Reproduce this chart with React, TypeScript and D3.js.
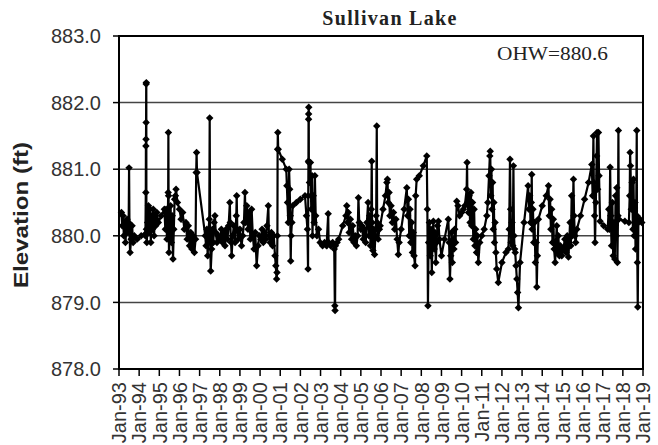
import * as d3 from 'd3'
import React from 'react'

type Obs = [number, number] // [decimal year, elevation ft]

const title = 'Sullivan Lake'
const ohwLabel = 'OHW=880.6'
const yLabel = 'Elevation (ft)'
const yTicks = [878, 879, 880, 881, 882, 883]
const yearTicks = d3.range(1993, 2020)

const obs1993_1997: Obs[] = [
  [1993.12, 880.35], [1993.16, 880.15], [1993.2, 880.3], [1993.24, 880.0], [1993.28, 880.2], [1993.32, 879.9],
  [1993.36, 880.1], [1993.4, 880.25], [1993.44, 880.05], [1993.48, 880.2], [1993.5, 881.02], [1993.52, 880.1],
  [1993.55, 879.75], [1993.6, 879.95], [1993.65, 880.15], [1993.7, 879.9], [1993.76, 880.0], [1993.9, 879.95],
  [1994.1, 880.0], [1994.28, 880.02], [1994.31, 880.0], [1994.33, 880.65], [1994.335, 881.35], [1994.34, 881.45],
  [1994.345, 881.7], [1994.35, 882.28], [1994.355, 882.3], [1994.36, 880.1], [1994.38, 879.9], [1994.42, 880.2],
  [1994.46, 880.45], [1994.5, 880.05], [1994.54, 880.4], [1994.58, 879.9], [1994.62, 880.3], [1994.66, 880.1],
  [1994.7, 880.4], [1994.74, 880.0], [1994.78, 880.3], [1994.82, 880.15], [1994.88, 880.35], [1994.95, 880.2],
  [1995.1, 880.3], [1995.25, 880.4], [1995.3, 880.1], [1995.34, 880.4], [1995.38, 879.95], [1995.42, 880.2],
  [1995.44, 880.65], [1995.45, 881.55], [1995.46, 880.6], [1995.48, 879.75], [1995.52, 880.05], [1995.56, 880.45],
  [1995.6, 879.9], [1995.64, 880.3], [1995.68, 879.65], [1995.72, 880.1], [1995.76, 880.55], [1995.8, 880.6],
  [1995.83, 880.7], [1995.9, 880.5], [1996.0, 880.4], [1996.08, 880.25], [1996.16, 880.35], [1996.24, 880.1],
  [1996.32, 880.2], [1996.38, 879.95], [1996.44, 880.15], [1996.5, 879.85], [1996.56, 880.05], [1996.62, 879.8],
  [1996.68, 880.0], [1996.74, 879.75], [1996.8, 879.95], [1996.83, 880.95], [1996.85, 881.25], [1996.87, 880.95],
  [1997.28, 880.0], [1997.32, 879.85], [1997.36, 880.1], [1997.4, 879.7], [1997.44, 880.05], [1997.48, 880.25],
  [1997.5, 881.77], [1997.52, 880.05], [1997.55, 879.47], [1997.6, 879.8], [1997.64, 880.1], [1997.68, 879.9],
  [1997.72, 880.2], [1997.76, 880.3], [1997.8, 880.05], [1997.86, 879.9], [1997.94, 880.0],
]

const obs1998_2002: Obs[] = [
  [1998.02, 879.95], [1998.08, 880.1], [1998.14, 879.9], [1998.2, 880.05], [1998.26, 879.85], [1998.32, 880.1],
  [1998.38, 879.95], [1998.44, 880.15], [1998.5, 880.5], [1998.52, 880.2], [1998.56, 879.9], [1998.59, 879.7],
  [1998.64, 880.0], [1998.7, 880.15], [1998.76, 879.9], [1998.82, 880.3], [1998.84, 880.6], [1998.87, 880.1],
  [1998.92, 879.95], [1999.0, 880.1], [1999.08, 879.85], [1999.14, 880.0], [1999.2, 880.2], [1999.25, 880.65],
  [1999.28, 880.2], [1999.34, 880.45], [1999.4, 880.1], [1999.46, 880.35], [1999.52, 879.95], [1999.58, 880.4],
  [1999.64, 880.0], [1999.7, 879.8], [1999.76, 880.05], [1999.83, 879.55], [1999.9, 879.85], [1999.96, 880.0],
  [2000.04, 879.95], [2000.1, 880.1], [2000.16, 879.9], [2000.22, 880.05], [2000.28, 879.95], [2000.34, 880.15],
  [2000.41, 880.45], [2000.44, 880.0], [2000.5, 879.9], [2000.56, 880.05], [2000.62, 879.85], [2000.68, 880.0],
  [2000.74, 879.7], [2000.78, 879.55], [2000.82, 879.35], [2000.84, 879.45], [2000.86, 880.0], [2000.87, 881.3],
  [2000.88, 881.55], [2000.9, 881.3], [2001.1, 881.15], [2001.3, 881.0], [2001.33, 880.75], [2001.36, 880.5],
  [2001.4, 880.2], [2001.44, 881.0], [2001.47, 880.7], [2001.5, 880.3], [2001.52, 879.62], [2001.54, 880.0],
  [2001.58, 880.2], [2001.62, 880.45], [2001.8, 880.5], [2002.0, 880.55], [2002.23, 880.6], [2002.3, 880.3],
  [2002.35, 880.1], [2002.38, 879.5], [2002.39, 880.6], [2002.4, 881.12], [2002.405, 881.75], [2002.41, 881.83],
  [2002.415, 881.93], [2002.42, 881.1], [2002.45, 880.8], [2002.5, 881.1], [2002.54, 880.4], [2002.58, 880.9],
  [2002.6, 880.0], [2002.64, 880.6], [2002.68, 880.2], [2002.72, 880.9], [2002.76, 880.3], [2002.82, 880.0],
  [2002.9, 880.1], [2002.98, 879.9],
]

const obs2003_2008: Obs[] = [
  [2003.1, 879.85], [2003.2, 879.9], [2003.3, 879.85], [2003.38, 880.33], [2003.4, 879.9], [2003.5, 879.85],
  [2003.6, 879.9], [2003.68, 879.8], [2003.71, 878.95], [2003.72, 878.88], [2003.74, 879.85], [2003.82, 879.9],
  [2003.9, 879.95], [2004.1, 880.15], [2004.26, 880.3], [2004.3, 880.45], [2004.34, 880.2], [2004.38, 880.35],
  [2004.42, 880.05], [2004.48, 880.25], [2004.54, 879.95], [2004.6, 880.15], [2004.66, 879.9], [2004.72, 880.0],
  [2004.78, 879.85], [2004.84, 880.0], [2004.88, 880.57], [2004.92, 880.2], [2005.0, 880.1], [2005.05, 880.15],
  [2005.12, 879.95], [2005.18, 880.1], [2005.24, 879.9], [2005.3, 880.2], [2005.36, 880.5], [2005.4, 880.0],
  [2005.44, 880.3], [2005.48, 879.85], [2005.52, 880.4], [2005.54, 881.12], [2005.56, 880.2], [2005.6, 879.78],
  [2005.64, 880.1], [2005.68, 879.72], [2005.72, 880.0], [2005.76, 880.3], [2005.79, 881.65], [2005.81, 880.2],
  [2005.86, 879.95], [2005.92, 880.1], [2005.96, 880.15], [2006.1, 880.4], [2006.22, 880.6], [2006.29, 880.8],
  [2006.32, 880.85], [2006.36, 880.5], [2006.4, 880.65], [2006.44, 880.3], [2006.5, 880.45], [2006.56, 880.2],
  [2006.62, 880.35], [2006.68, 880.1], [2006.74, 880.25], [2006.8, 879.95], [2006.86, 879.72], [2006.9, 879.9],
  [2007.0, 880.1], [2007.15, 880.4], [2007.28, 880.72], [2007.32, 880.3], [2007.36, 880.55], [2007.4, 880.0],
  [2007.44, 880.4], [2007.48, 879.9], [2007.52, 880.2], [2007.56, 879.75], [2007.6, 880.05], [2007.64, 879.7],
  [2007.69, 879.55], [2007.72, 880.6], [2007.77, 880.85], [2007.9, 880.9], [2008.1, 881.05], [2008.27, 881.2],
  [2008.3, 880.4], [2008.33, 878.95], [2008.36, 879.9], [2008.4, 880.2], [2008.44, 879.7], [2008.48, 880.1],
  [2008.52, 879.45], [2008.56, 880.0], [2008.6, 880.22], [2008.64, 879.8], [2008.68, 880.05], [2008.72, 879.6],
  [2008.76, 879.9], [2008.8, 880.15], [2008.85, 880.22], [2008.9, 879.95],
]

const obs2009_2013: Obs[] = [
  [2009.0, 879.7], [2009.15, 879.95], [2009.34, 880.25], [2009.38, 879.9], [2009.42, 879.35], [2009.46, 879.7],
  [2009.5, 880.05], [2009.54, 879.6], [2009.58, 879.95], [2009.62, 879.8], [2009.66, 880.1], [2009.7, 879.9],
  [2009.76, 880.52], [2009.82, 880.45], [2009.9, 880.3], [2010.0, 880.35], [2010.09, 880.4], [2010.16, 880.45],
  [2010.25, 880.7], [2010.27, 881.1], [2010.29, 880.5], [2010.34, 880.35], [2010.38, 880.6], [2010.42, 880.2],
  [2010.46, 880.65], [2010.5, 880.15], [2010.54, 880.5], [2010.58, 879.95], [2010.62, 880.4], [2010.66, 879.85],
  [2010.7, 880.1], [2010.74, 879.75], [2010.78, 880.0], [2010.83, 879.6], [2010.9, 879.9], [2011.0, 880.0],
  [2011.12, 880.1], [2011.25, 880.3], [2011.3, 880.5], [2011.36, 880.9], [2011.4, 881.2], [2011.42, 881.27],
  [2011.45, 880.6], [2011.48, 881.0], [2011.51, 880.4], [2011.54, 880.8], [2011.57, 880.1], [2011.6, 880.5],
  [2011.63, 879.9], [2011.66, 880.2], [2011.7, 879.75], [2011.74, 879.5], [2011.82, 879.3], [2012.0, 879.6],
  [2012.2, 879.75], [2012.32, 879.8], [2012.36, 880.1], [2012.4, 881.15], [2012.43, 880.4], [2012.46, 879.9],
  [2012.5, 880.2], [2012.54, 879.85], [2012.57, 881.05], [2012.6, 880.0], [2012.63, 879.8], [2012.66, 879.75],
  [2012.7, 879.55], [2012.74, 879.35], [2012.78, 879.15], [2012.82, 878.92], [2012.9, 879.6], [2013.1, 880.2],
  [2013.3, 880.75], [2013.34, 880.4], [2013.38, 880.6], [2013.42, 880.2], [2013.46, 880.5], [2013.48, 880.92],
  [2013.5, 880.1], [2013.54, 880.4], [2013.58, 879.9], [2013.62, 880.2], [2013.66, 879.6], [2013.7, 879.9],
  [2013.73, 879.23], [2013.76, 879.7], [2013.81, 880.25],
]

const obs2014_2018: Obs[] = [
  [2014.0, 880.45], [2014.2, 880.6], [2014.31, 880.75], [2014.35, 880.3], [2014.39, 880.55], [2014.43, 880.1],
  [2014.47, 880.4], [2014.51, 879.9], [2014.55, 880.25], [2014.59, 879.8], [2014.64, 879.6], [2014.68, 879.9],
  [2014.72, 880.15], [2014.76, 879.75], [2014.8, 880.0], [2014.85, 879.7], [2014.9, 879.85], [2014.97, 879.7],
  [2015.05, 879.8], [2015.12, 879.95], [2015.18, 879.75], [2015.24, 880.0], [2015.3, 879.68], [2015.34, 879.9],
  [2015.38, 880.2], [2015.42, 879.85], [2015.46, 880.6], [2015.5, 880.0], [2015.55, 880.85], [2015.58, 880.3],
  [2015.62, 880.0], [2015.66, 879.9], [2015.72, 880.1], [2015.9, 880.3], [2016.1, 880.55], [2016.3, 880.8],
  [2016.46, 881.07], [2016.5, 880.6], [2016.54, 881.5], [2016.56, 880.8], [2016.6, 880.3], [2016.62, 879.9],
  [2016.66, 880.5], [2016.7, 881.2], [2016.72, 881.55], [2016.75, 880.7], [2016.79, 881.55], [2016.82, 880.9],
  [2016.87, 880.22], [2017.05, 880.15], [2017.25, 880.1], [2017.3, 880.4], [2017.34, 880.1], [2017.37, 881.03],
  [2017.4, 880.3], [2017.44, 879.85], [2017.48, 880.5], [2017.52, 879.7], [2017.56, 880.2], [2017.6, 879.65],
  [2017.64, 880.6], [2017.67, 880.0], [2017.7, 880.72], [2017.73, 879.6], [2017.76, 880.3], [2017.78, 881.58],
  [2017.8, 880.25], [2018.1, 880.22], [2018.3, 880.2], [2018.34, 880.6], [2018.36, 881.25], [2018.38, 881.05],
  [2018.42, 880.4], [2018.46, 880.8], [2018.5, 880.1], [2018.53, 880.85], [2018.56, 880.0], [2018.6, 880.5],
  [2018.63, 879.8], [2018.66, 880.2], [2018.69, 881.58], [2018.7, 880.3], [2018.72, 879.6], [2018.74, 878.93],
  [2018.77, 880.2], [2018.85, 880.25], [2018.94, 880.2],
]

const series: Obs[] = [...obs1993_1997, ...obs1998_2002, ...obs2003_2008, ...obs2009_2013, ...obs2014_2018]

const W = 658
const H = 445
const m = { left: 119, right: 15, top: 36, bottom: 76 }

export default function App() {
  const x = d3.scaleLinear().domain([1993, 2019]).range([m.left, W - m.right])
  const y = d3.scaleLinear().domain([878, 883]).range([H - m.bottom, m.top])
  const line = d3.line<Obs>().x(d => x(d[0])).y(d => y(d[1]))
  const marker = d3.symbol(d3.symbolSquare, 28)()
  const fmt = d3.timeFormat('%b-%y')
  const sans = 'Liberation Sans, Arial, sans-serif'
  const serif = 'Liberation Serif, Times New Roman, serif'
  const x0 = x.range()[0], x1 = x.range()[1]
  const y0 = y.range()[0], y1 = y.range()[1]

  return (
    <svg width={W} height={H} style={{ position: 'absolute', left: 0, top: 0, background: '#fff' }}>
      {yTicks.map(t => (
        <g key={t}>
          <line x1={x0} x2={x1} y1={y(t)} y2={y(t)} stroke="#444" strokeWidth={1.5} />
          <line x1={x0 - 6} x2={x0} y1={y(t)} y2={y(t)} stroke="#000" strokeWidth={1.5} />
          <text x={101} y={y(t)} dy="0.36em" textAnchor="end" fontFamily={sans} fontSize={20} fill="#333">
            {t.toFixed(1)}
          </text>
        </g>
      ))}
      {yearTicks.map(yr => (
        <g key={yr}>
          <line x1={x(yr)} x2={x(yr)} y1={y0} y2={y0 + 7} stroke="#000" strokeWidth={1.5} />
          <text
            transform={`translate(${x(yr)},${y0 + 13}) rotate(-90)`}
            dy="0.36em"
            textAnchor="end"
            fontFamily={sans}
            fontSize={20}
            fill="#333"
          >
            {fmt(new Date(yr, 0, 1))}
          </text>
        </g>
      ))}
      <rect x={x0} y={y1} width={x1 - x0} height={y0 - y1} fill="none" stroke="#000" strokeWidth={2} />
      <path d={line(series) ?? ''} fill="none" stroke="#000" strokeWidth={2.2} />
      {series.map((d, i) => (
        <path key={i} d={marker} transform={`translate(${x(d[0])},${y(d[1])}) rotate(45)`} fill="#000" />
      ))}
      <text x={390} y={25} textAnchor="middle" fontFamily={serif} fontWeight="bold" fontSize={20}
        letterSpacing={1.3} fill="#222">
        {title}
      </text>
      <text x={497} y={60} fontFamily={serif} fontSize={19} textLength={111} lengthAdjust="spacingAndGlyphs" fill="#222">
        {ohwLabel}
      </text>
      <text
        transform={`translate(20,215) rotate(-90)`}
        dy="0.36em"
        textAnchor="middle"
        fontFamily={sans}
        fontWeight="bold"
        fontSize={21}
        textLength={146}
        lengthAdjust="spacingAndGlyphs"
        fill="#222"
      >
        {yLabel}
      </text>
    </svg>
  )
}
